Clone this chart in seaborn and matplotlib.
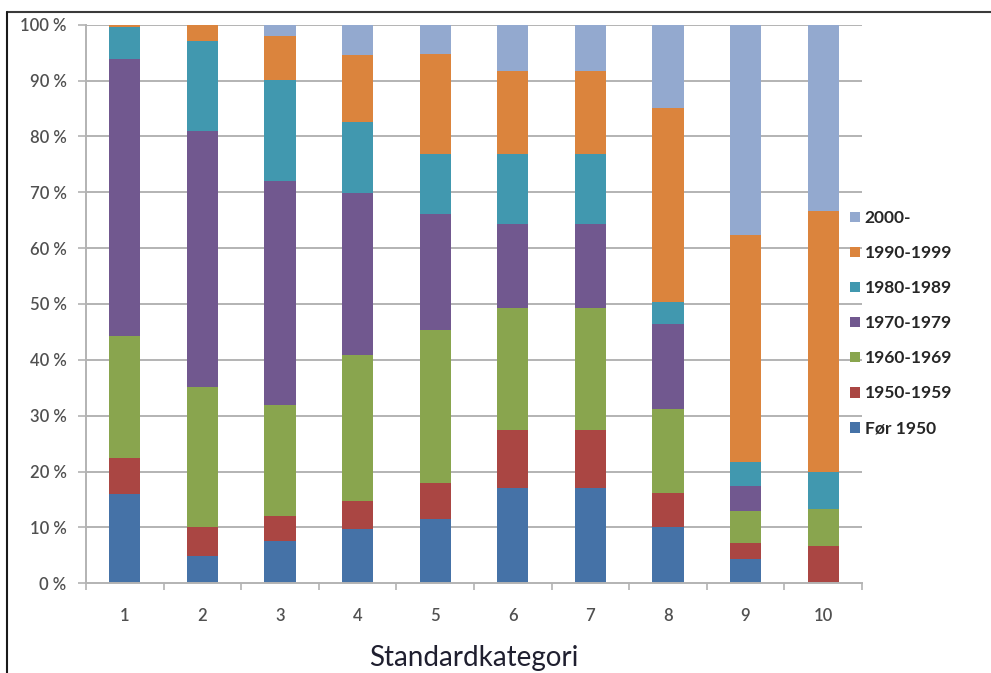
import matplotlib
matplotlib.use("Agg")
import matplotlib.pyplot as plt
from matplotlib.patches import Patch
from matplotlib.lines import Line2D
from matplotlib.ticker import FixedLocator, FuncFormatter
import numpy as np
import pandas as pd
import seaborn as sns

# Andel bygg per byggeperiode (prosent) for hver standardkategori
kategorier = ["1", "2", "3", "4", "5", "6", "7", "8", "9", "10"]
perioder = ["Før 1950", "1950-1959", "1960-1969", "1970-1979",
            "1980-1989", "1990-1999", "2000-"]
for_1950 = [16.0, 4.9, 7.6, 9.7, 11.5, 17.1, 17.1, 10.1, 4.3, 0.0]
p1950 = [6.5, 5.2, 4.5, 5.0, 6.4, 10.3, 10.3, 6.0, 2.9, 6.67]
p1960 = [21.7, 25.0, 19.7, 26.2, 27.4, 21.9, 21.9, 15.1, 5.8, 6.67]
p1970 = [49.7, 45.9, 40.2, 28.9, 20.9, 15.1, 15.1, 15.2, 4.5, 0.0]
p1980 = [5.7, 16.1, 18.0, 12.8, 10.6, 12.4, 12.4, 4.0, 4.2, 6.67]
p1990 = [0.4, 2.9, 7.8, 11.9, 18.0, 15.0, 15.0, 34.6, 40.8, 46.66]
p2000 = [0.0, 0.0, 2.1, 5.5, 5.2, 8.2, 8.2, 15.0, 37.6, 33.33]
farger = ["#4572A7", "#AA4643", "#89A54E", "#71588F",
          "#4198AF", "#DB843D", "#93A9CF"]
y_ticks = list(range(0, 101, 10))

serier = [for_1950, p1950, p1960, p1970, p1980, p1990, p2000]
tab = pd.DataFrame(dict(zip(perioder, serier)), index=kategorier)
andel = tab.div(tab.sum(axis=1), axis=0) * 100
kum = andel.cumsum(axis=1)

sns.set_theme(style="white")
plt.rcParams["font.family"] = ["Lato", "DejaVu Sans"]

fig = plt.figure(figsize=(9.91, 6.73), dpi=100)
W, H = 991, 673
ax = fig.add_axes([86 / W, 1 - 583.3 / H, (862 - 86) / W, (583.3 - 24.7) / H])

# Stablede søyler: tegn kumulative summer fra øverste periode og nedover
for periode, farge in reversed(list(zip(perioder, farger))):
    d = pd.DataFrame({"kategori": kategorier, "verdi": kum[periode].values})
    sns.barplot(data=d, x="kategori", y="verdi", color=farge, width=0.4,
                saturation=1, linewidth=0, errorbar=None, ax=ax, zorder=3)

ax.set_xlim(-0.5, len(kategorier) - 0.5)
ax.set_ylim(0, 100)
grid_c = "#B3B3B3"
ax.yaxis.set_major_locator(FixedLocator(y_ticks))
ax.yaxis.set_major_formatter(FuncFormatter(lambda v, p: f"{int(v)} %"))
for v in y_ticks[1:]:
    ax.axhline(v, color=grid_c, lw=1.4, zorder=1)

for s in ["top", "right"]:
    ax.spines[s].set_visible(False)
for s in ["left", "bottom"]:
    ax.spines[s].set_color(grid_c)
    ax.spines[s].set_linewidth(1.4)
    ax.spines[s].set_zorder(4)

ax.set_xticks(range(len(kategorier)))
ax.set_xticklabels(kategorier)
ax.set_xticks(np.arange(-0.5, len(kategorier), 1.0), minor=True)
ax.tick_params(axis="x", which="major", length=0, pad=18, labelsize=12,
               labelcolor="#505050")
ax.tick_params(axis="x", which="minor", bottom=True, length=5, width=1.2,
               color=grid_c, direction="out")
ax.tick_params(axis="y", left=True, length=6, width=1.2, color=grid_c,
               direction="out", pad=8, labelsize=12, labelcolor="#505050")
for lbl in ax.get_yticklabels() + ax.get_xticklabels():
    lbl.set_fontweight("semibold")
ax.set_ylabel("")
ax.set_xlabel("Standardkategori", fontsize=20, color="#1F1F2F", labelpad=15)

handles = [Patch(facecolor=f, edgecolor="none") for f in reversed(farger)]
fig.legend(handles, list(reversed(perioder)), loc="upper left",
           bbox_to_anchor=(850 / W, 1 - 210 / H), frameon=False,
           handlelength=0.55, handleheight=0.55, handletextpad=0.3,
           labelspacing=1.1, borderpad=0, borderaxespad=0,
           prop={"size": 12.5, "weight": "bold"}, labelcolor="#262626")

# Ramme rundt figuren (topp og venstre kant)
fig.add_artist(Line2D([7 / W, 1.0], [1 - 11.5 / H, 1 - 11.5 / H],
                      transform=fig.transFigure, color="#3A3A3A", lw=1.5))
fig.add_artist(Line2D([7 / W, 7 / W], [0.0, 1 - 11.5 / H],
                      transform=fig.transFigure, color="#1A1A1A", lw=1.5))

fig.savefig("out.png", dpi=100)
